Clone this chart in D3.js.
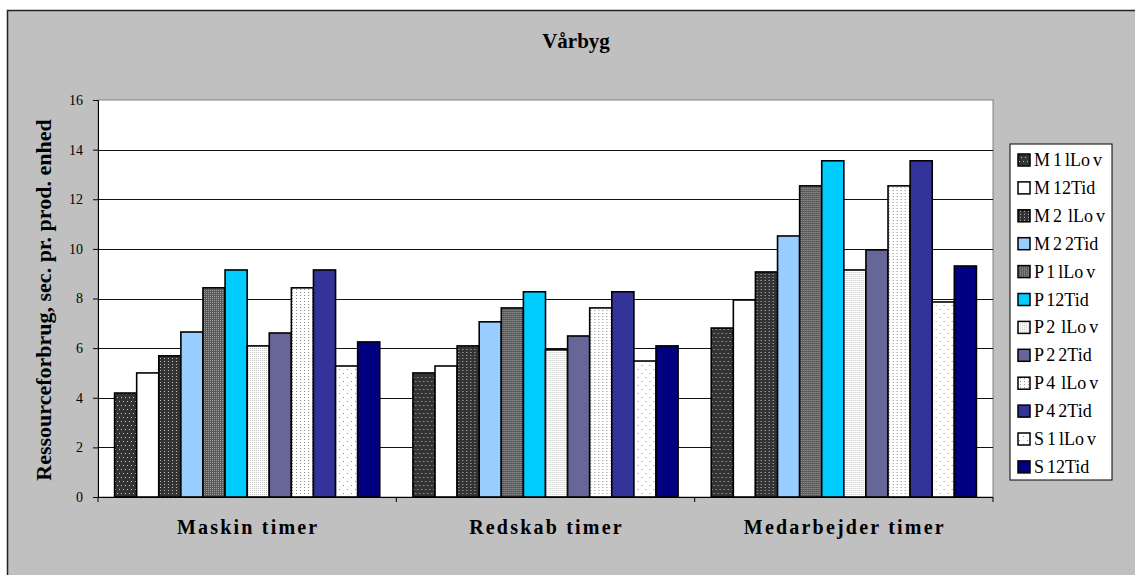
<!DOCTYPE html>
<html><head><meta charset="utf-8">
<script src="https://cdn.jsdelivr.net/npm/d3@7"></script>
<style>
html,body{margin:0;padding:0;background:#fff;}
svg{display:block;}
text{font-family:"Liberation Serif","Times New Roman",serif;}
</style></head>
<body>
<svg id="c" width="1135" height="575"></svg>
<script>
const title = "Vårbyg";
const yLabel = "Ressourceforbrug, sec. pr. prod. enhed";
const categories = ["Maskin timer", "Redskab timer", "Medarbejder timer"];
const seriesNames = ["M 1 lLo v", "M 12Tid", "M 2  lLo v", "M 2 2Tid", "P 1 lLo v", "P 12Tid",
                     "P 2  lLo v", "P 2 2Tid", "P 4  lLo v", "P 4 2Tid", "S 1 lLo v", "S 12Tid"];
const maskinValues = [4.19, 5.0, 5.69, 6.65, 8.43, 9.15, 6.09, 6.61, 8.43, 9.15, 5.28, 6.25];
const redskabValues = [5.0, 5.28, 6.09, 7.06, 7.62, 8.27, 5.93, 6.49, 7.62, 8.27, 5.48, 6.09];
const medarbejderValues = [6.81, 7.94, 9.07, 10.52, 12.54, 13.55, 9.15, 9.96, 12.54, 13.55, 7.86, 9.31];
const yTicks = [0, 2, 4, 6, 8, 10, 12, 14, 16];
const fills = ["url(#p1)", "#ffffff", "url(#p3)", "#99ccff", "url(#p5)", "#00ccff",
               "url(#p7)", "#666699", "url(#p9)", "#333399", "url(#p11)", "#000080"];

const values = [maskinValues, redskabValues, medarbejderValues];
const svg = d3.select("#c");

// patterns
const defs = svg.append("defs");
function pat(id, w, h, bg, dots, dotColor) {
  const p = defs.append("pattern").attr("id", id).attr("patternUnits", "userSpaceOnUse")
    .attr("width", w).attr("height", h);
  p.append("rect").attr("width", w).attr("height", h).attr("fill", bg);
  dots.forEach(d => p.append("rect").attr("x", d[0]).attr("y", d[1]).attr("width", 1).attr("height", 1).attr("fill", dotColor));
}
pat("p1", 4, 8, "#333333", [[1, 1], [3, 5]], "#c8c8c8");
pat("p3", 4, 3, "#333333", [[2, 1]], "#bdbdbd");
pat("p5", 2, 2, "#5a5a5a", [[0, 0]], "#a0a0a0");
pat("p7", 2, 2, "#ffffff", [[0, 0]], "#c4c4c4");
pat("p9", 4, 3, "#ffffff", [[2, 1]], "#8a8a8a");
pat("p11", 8, 8, "#ffffff", [[1, 1], [5, 5]], "#8a8a8a");

// chart area
svg.append("rect").attr("x", 7.5).attr("y", 10.5).attr("width", 1140).attr("height", 580)
  .attr("fill", "#c0c0c0").attr("stroke", "#222").attr("stroke-width", 1.5);

const L = 98, R = 993, T = 100, B = 497;
svg.append("rect").attr("x", L).attr("y", T).attr("width", R - L).attr("height", B - T)
  .attr("fill", "#fff").attr("stroke", "#808080").attr("stroke-width", 1);

const y = d3.scaleLinear().domain([0, 16]).range([B, T]);
const x0 = d3.scaleBand().domain(categories).range([L, R]).padding(0);
const gw = x0.bandwidth();
const bw = gw / 13.5;
const x1 = d3.scaleBand().domain(seriesNames).range([0.75 * bw, 12.75 * bw]).padding(0);

// gridlines
svg.append("g").selectAll("line").data(yTicks.filter(t => t > 0 && t < 16)).join("line")
  .attr("x1", L).attr("x2", R).attr("y1", d => Math.round(y(d)) + 0.5).attr("y2", d => Math.round(y(d)) + 0.5)
  .attr("stroke", "#111").attr("stroke-width", 1);

// y axis
const yAxis = d3.axisLeft(y).tickValues(yTicks).tickSize(5).tickPadding(10);
const ga = svg.append("g").attr("transform", `translate(${L},0)`).call(yAxis);
ga.select(".domain").attr("stroke", "#000");
ga.selectAll(".tick line").attr("stroke", "#000");
ga.selectAll(".tick text").attr("font-size", 14).attr("font-family", "Liberation Serif").attr("fill", "#000");

// bars
const groups = svg.append("g").selectAll("g").data(categories).join("g")
  .attr("transform", d => `translate(${x0(d)},0)`);
groups.selectAll("rect").data((d, i) => values[i].map((v, j) => ({ v, j })))
  .join("rect")
  .attr("x", d => x1(seriesNames[d.j]))
  .attr("y", d => y(d.v))
  .attr("width", x1.bandwidth())
  .attr("height", d => B - y(d.v))
  .attr("fill", d => fills[d.j])
  .attr("stroke", "#000").attr("stroke-width", 1.6);

// x axis line and ticks
svg.append("line").attr("x1", L).attr("x2", R).attr("y1", B + 0.5).attr("y2", B + 0.5).attr("stroke", "#000");
const bounds = [L].concat(categories.map(c => x0(c) + gw));
svg.append("g").selectAll("line").data(bounds).join("line")
  .attr("x1", d => d).attr("x2", d => d).attr("y1", B).attr("y2", B + 5).attr("stroke", "#000");

// category labels
svg.append("g").selectAll("text").data(categories).join("text")
  .attr("x", d => x0(d) + gw / 2 + 1).attr("y", 534).attr("text-anchor", "middle")
  .attr("font-size", 20).attr("font-weight", "bold").attr("letter-spacing", "2.2px").text(d => d);

// title
svg.append("text").attr("x", 576).attr("y", 48).attr("text-anchor", "middle")
  .attr("font-size", 21).attr("font-weight", "bold").text(title);

// y label
svg.append("text").attr("transform", "translate(51,300) rotate(-90)").attr("text-anchor", "middle")
  .attr("font-size", 22).attr("font-weight", "bold").text(yLabel);

// legend
const lg = svg.append("g");
lg.append("rect").attr("x", 1010).attr("y", 144).attr("width", 102).attr("height", 336)
  .attr("fill", "#fff").attr("stroke", "#000").attr("stroke-width", 1);
const li = lg.selectAll("g").data(seriesNames).join("g")
  .attr("transform", (d, i) => `translate(1018,${160 + i * 27.9})`);
li.append("rect").attr("x", 0).attr("y", -6).attr("width", 12).attr("height", 12)
  .attr("fill", (d, i) => fills[i]).attr("stroke", "#000").attr("stroke-width", 1.5);
li.append("text").attr("x", 16).attr("y", 6).attr("font-size", 18).attr("word-spacing", "-1.5px")
  .style("white-space", "pre").attr("xml:space", "preserve").text(d => d);
</script>
</body></html>
